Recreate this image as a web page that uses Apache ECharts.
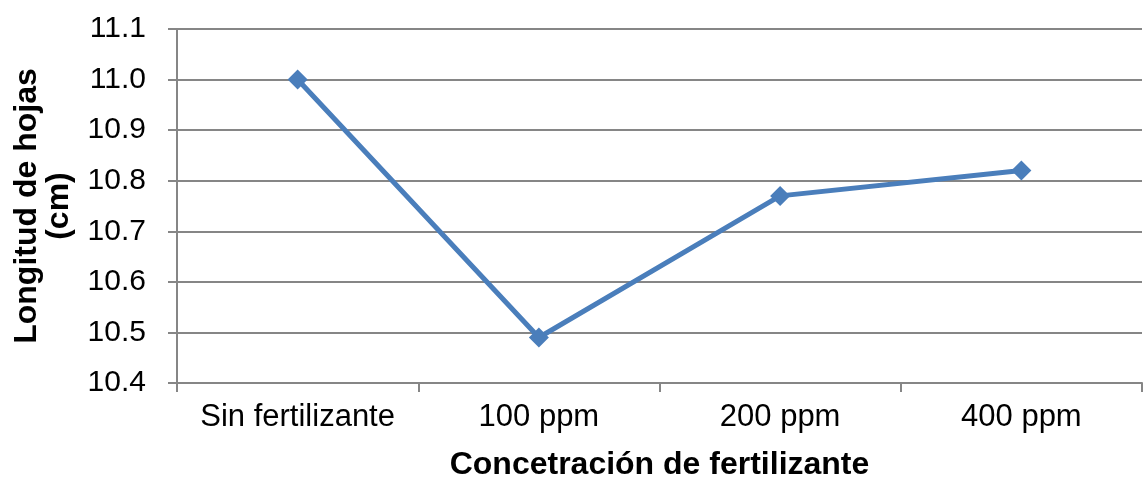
<!DOCTYPE html>
<html>
<head>
<meta charset="utf-8">
<script src="https://cdn.jsdelivr.net/npm/echarts@6/dist/echarts.min.js"></script>
<style>
  html, body { margin: 0; padding: 0; background: #fff; }
  #main { width: 1143px; height: 479px; }
</style>
</head>
<body>
<div id="main"></div>
<script>
// datos del gráfico
var categories = ["Sin fertilizante", "100 ppm", "200 ppm", "400 ppm"];
var longitud = [11.0, 10.49, 10.77, 10.82];
var yMin = 10.4, yMax = 11.1, yStep = 0.1;

var chart = echarts.init(document.getElementById("main"));
var font = "Liberation Sans, Arial, sans-serif";

var option = {
  animation: false,
  grid: { left: 177, right: 1, top: 29, bottom: 96, outerBoundsMode: "none", containLabel: false },
  xAxis: {
    type: "category",
    data: categories,
    boundaryGap: true,
    name: "Concetración de fertilizante",
    nameLocation: "middle",
    nameGap: 66,
    nameTextStyle: { fontFamily: font, fontSize: 32, fontWeight: "bold", color: "#000" },
    axisLine: { lineStyle: { color: "#868686", width: 2 } },
    axisTick: { show: true, interval: 0, length: 9, alignWithLabel: false, lineStyle: { color: "#868686", width: 2 } },
    axisLabel: { interval: 0, hideOverlap: false, fontFamily: font, fontSize: 31, color: "#000", margin: 19 }
  },
  yAxis: {
    type: "value",
    min: yMin,
    max: yMax,
    interval: yStep,
    name: "Longitud de hojas\n(cm)",
    nameLocation: "middle",
    nameGap: 102,
    nameTextStyle: { fontFamily: font, fontSize: 32, fontWeight: "bold", color: "#000", lineHeight: 32 },
    axisLine: { show: true, lineStyle: { color: "#868686", width: 2 } },
    axisTick: { show: true, length: 9, lineStyle: { color: "#868686", width: 2 } },
    splitLine: { lineStyle: { color: "#868686", width: 2 } },
    axisLabel: {
      fontFamily: font, fontSize: 30, color: "#000", margin: 31,
      formatter: function (v) { return v.toFixed(1); }
    }
  },
  series: [{
    type: "line",
    data: longitud,
    symbol: "diamond",
    symbolSize: 20,
    itemStyle: { color: "#4A7EBB" },
    lineStyle: { color: "#4A7EBB", width: 5 }
  }]
};
chart.setOption(option);
</script>
</body>
</html>
